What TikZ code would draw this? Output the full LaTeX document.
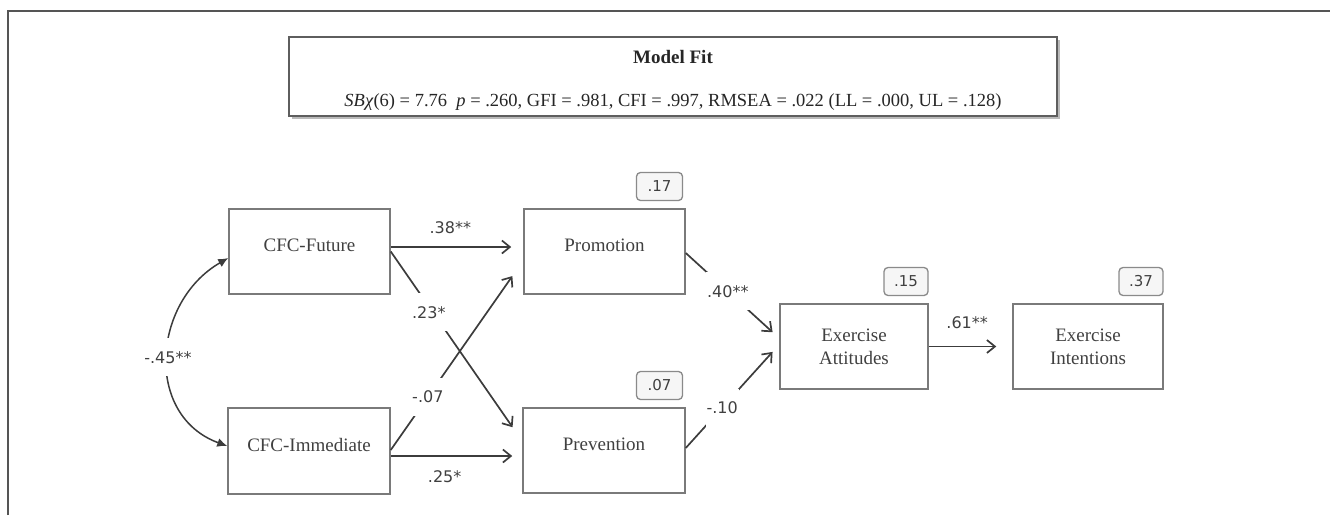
\documentclass[tikz,border=0pt]{standalone}
\usepackage{fontspec}
\setmainfont{Liberation Serif}
\newfontfamily\labfont{DejaVu Sans}
\usetikzlibrary{arrows.meta,shadows,calc}
\definecolor{txt}{HTML}{404040}
\definecolor{boxc}{HTML}{7A7A7A}
\definecolor{arr}{HTML}{3C3C3C}
\definecolor{rfill}{HTML}{F6F6F6}
\definecolor{rline}{HTML}{8A8A8A}
\definecolor{framec}{HTML}{555555}
\definecolor{fitc}{HTML}{5E5E5E}
\tikzset{
 var/.style={draw=boxc, line width=1.5pt, minimum width=161pt, minimum height=85pt, inner sep=0pt,
   font=\fontsize{19}{23}\selectfont, text=txt, align=center},
 var1/.style={var, text height=14pt, text depth=14pt},
 rsq/.style={draw=rline, fill=rfill, rounded corners=4pt, line width=1.3pt, minimum width=46pt,
   minimum height=28pt, inner sep=0pt, font=\labfont\fontsize{15}{18}\selectfont, text=txt},
 pathar/.style={draw=arr, line width=1.7pt, -{Straight Barb[length=8pt,width=13pt,line width=1.7pt]}},
 coef/.style={font=\labfont\fontsize{16}{19}\selectfont, text=txt, inner sep=1pt},
 oncoef/.style={coef, fill=white, inner xsep=1pt, inner ysep=13pt},
 cov/.style={draw=arr, line width=1.5pt, {Latex[length=10pt,width=9pt]}-{Latex[length=10pt,width=9pt]}},
}
\begin{document}
\begin{tikzpicture}[x=1pt,y=1pt]
\useasboundingbox (0,0) rectangle (1330,-515);
\draw[draw=framec, line width=2pt] (8,-515) -- (8,-11) -- (1330,-11);

% model fit box
\node[draw=fitc, line width=1.8pt, fill=white, minimum width=768pt, minimum height=79pt, inner sep=0pt,
  drop shadow={shadow xshift=3pt, shadow yshift=-3pt, fill=black!45, opacity=0.6}] (fitbox) at (673,-76.5) {};
\node[font=\bfseries\fontsize{19}{23}\selectfont, text=black!85] (fittitle) at (673,-57) {Model Fit};
\node[font=\fontsize{18.5}{22}\selectfont, text=black!85] (fitline) at (673,-102)
  {\textit{SBχ}(6) = 7.76\ \ \textit{p} = .260, GFI = .981, CFI = .997, RMSEA = .022 (LL = .000, UL = .128)};

% variables
\node[var1] (fut) at (309.5,-251.5) {CFC-Future};
\node[var1, minimum width=162pt, minimum height=86pt] (imm) at (309,-451) {CFC-Immediate};
\node[var1] (prom) at (604.5,-251.5) {Promotion};
\node[var1, minimum width=162pt] (prev) at (604,-450.5) {Prevention};
\node[var, minimum width=148pt] (att) at (854,-346.5) {Exercise\\Attitudes};
\node[var, minimum width=150pt] (int) at (1088,-346.5) {Exercise\\Intentions};

% R squared
\node[rsq] (r17) at (659.5,-186.5) {.17};
\node[rsq] (r07) at (659.5,-385.5) {.07};
\node[rsq, minimum width=44pt] (r15) at (906,-281.5) {.15};
\node[rsq, minimum width=44pt] (r37) at (1141,-281.5) {.37};

% paths
\draw[pathar, shorten >=12pt] ([yshift=4.5pt]fut.east) coordinate (a1) -- (a1 -| prom.west)
  node[coef, pos=0.45, above=11pt] (l38) {.38**};
\draw[pathar, shorten >=17pt] (fut.east) -- ([yshift=9.3pt]prev.west)
  node[oncoef, pos=0.32, xshift=-4pt] (l23) {.23*};
\draw[pathar, shorten >=19pt] ([yshift=1pt]imm.east) -- ([yshift=-9pt]prom.west)
  node[oncoef, pos=0.28] (l07) {-.07};
\draw[pathar, shorten >=10pt] ([yshift=-5pt]imm.east) coordinate (a4) -- (a4 -| prev.west)
  node[coef, pos=0.41, below=13pt] (l25) {.25*};
\draw[pathar, shorten >=9pt] ([yshift=-1.5pt]prom.east) -- ([yshift=8.2pt]att.west)
  node[oncoef, pos=0.45] (l40) {.40**};
\draw[pathar, shorten >=10pt] ([yshift=2.5pt]prev.east) -- ([yshift=2pt]att.west)
  node[oncoef, pos=0.39] (l10) {-.10};
\draw[pathar, shorten >=16pt] (att.east) -- (int.west)
  node[coef, pos=0.46, above=15.5pt] (l61) {.61**};

% covariance
\draw[cov] ([yshift=5pt]imm.west) to[out=160, in=210, looseness=1.2]
  node[oncoef, pos=0.5] (l45) {-.45**} ([yshift=-6.5pt]fut.west);
\end{tikzpicture}
\end{document}
